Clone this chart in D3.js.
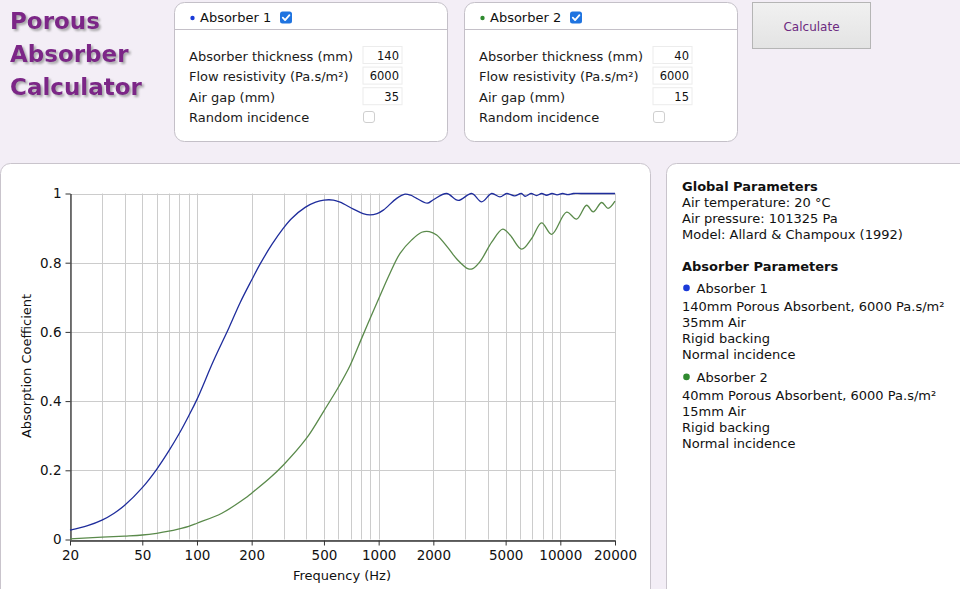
<!DOCTYPE html>
<html><head><meta charset="utf-8">
<script src="https://cdn.jsdelivr.net/npm/d3@7"></script>
<style>
body{margin:0;background:#f3eef6;}
svg{display:block;font-family:"DejaVu Sans",Verdana,sans-serif;}
</style></head><body>
<svg id="c" width="960" height="589"></svg>
<script>
// ---- data ----
const freq1 = [20,25,30,35,40,50,60,70,80,90,100,123,150,173,200,222,258,299,332,394,450,500,563,613,726,820,896,980,1061,1257,1397,1500,1619,1853,2000,2367,2743,3253,3690,4190,4656,5070,5600,6100,6400,6900,7400,7900,8400,9000,9600,10300,11000,11800,13000,20000];
const abs1  = [0.027,0.040,0.056,0.076,0.099,0.150,0.203,0.256,0.307,0.357,0.405,0.515,0.612,0.685,0.750,0.795,0.852,0.900,0.928,0.960,0.975,0.981,0.981,0.975,0.955,0.942,0.938,0.942,0.952,0.986,0.998,0.995,0.986,0.972,0.982,1.000,0.980,1.000,0.976,1.000,0.990,1.000,0.993,1.000,0.992,1.000,0.994,1.000,0.995,1.000,0.996,1.000,0.997,1.000,1.000,1.000];
const freq2 = [20,30,40,50,60,70,80,90,100,137,184,200,250,300,400,500,600,695,807,896,995,1153,1312,1521,1726,1900,2086,2417,2700,3118,3300,3614,4200,4820,5288,6128,6955,7891,8960,10833,12296,13957,15180,16900,18300,20000];
const abs2  = [0.002,0.007,0.010,0.013,0.018,0.024,0.031,0.038,0.047,0.076,0.119,0.134,0.176,0.216,0.292,0.372,0.440,0.502,0.582,0.638,0.693,0.769,0.827,0.866,0.888,0.890,0.880,0.842,0.810,0.782,0.783,0.803,0.860,0.897,0.880,0.839,0.870,0.915,0.882,0.946,0.926,0.966,0.947,0.974,0.957,0.978];
const xTickValues = [20,50,100,200,500,1000,2000,5000,10000,20000];
const xGridValues = [20,30,40,50,60,70,80,90,100,200,300,400,500,600,700,800,900,1000,2000,3000,4000,5000,6000,7000,8000,9000,10000,20000];
const yTickValues = [0,0.2,0.4,0.6,0.8,1];
const seriesNames = ["Absorber 1","Absorber 2"];
const seriesColors = ["#1f2d9c","#5a8a4b"];
const dotColors = ["#1a3ad8","#2f8a2f"];
const thickness = ["140","40"], resistivity = ["6000","6000"], airGap = ["35","15"];
const globalParams = ["Air temperature: 20 °C","Air pressure: 101325 Pa","Model: Allard & Champoux (1992)"];
const absorberDesc = [
  ["140mm Porous Absorbent, 6000 Pa.s/m²","35mm Air","Rigid backing","Normal incidence"],
  ["40mm Porous Absorbent, 6000 Pa.s/m²","15mm Air","Rigid backing","Normal incidence"]
];

const svg = d3.select("#c");
const defs = svg.append("defs");
const f = defs.append("filter").attr("id","sh").attr("x","-10%").attr("y","-10%").attr("width","130%").attr("height","140%");
f.append("feDropShadow").attr("dx",2).attr("dy",2).attr("stdDeviation",1.2).attr("flood-color","#888").attr("flood-opacity",0.7);

// ---- title ----
const title = svg.append("g").attr("filter","url(#sh)");
["Porous","Absorber","Calculator"].forEach((t,i)=>{
  title.append("text").attr("x",10).attr("y",28.5+i*33.3).text(t)
    .attr("font-size",23).attr("font-weight","bold").attr("fill","#7b2587");
});

// ---- absorber panels ----
function checkbox(g,x,y){
  g.append("rect").attr("x",x).attr("y",y).attr("width",12).attr("height",12).attr("rx",2.5).attr("fill","#1f74e0");
  g.append("path").attr("d",`M${x+2.8},${y+6.2} L${x+5.1},${y+8.6} L${x+9.4},${y+3.6}`)
    .attr("fill","none").attr("stroke","#fff").attr("stroke-width",1.8).attr("stroke-linecap","round").attr("stroke-linejoin","round");
}
[174,464].forEach((px,i)=>{
  const g = svg.append("g");
  g.append("rect").attr("x",px+0.5).attr("y",2.5).attr("width",273).attr("height",139).attr("rx",10)
    .attr("fill","#fff").attr("stroke","#c4c0c8");
  g.append("line").attr("x1",px+0.5).attr("x2",px+273.5).attr("y1",29.5).attr("y2",29.5).attr("stroke","#c4c0c8");
  g.append("circle").attr("cx",px+18.5).attr("cy",18).attr("r",2.2).attr("fill",dotColors[i]);
  g.append("text").attr("x",px+26).attr("y",21.5).attr("font-size",13).attr("fill","#111").text(seriesNames[i]);
  checkbox(g,px+106,11.5);
  const labels=["Absorber thickness (mm)","Flow resistivity (Pa.s/m²)","Air gap (mm)","Random incidence"];
  const vals=[thickness[i],resistivity[i],airGap[i]];
  labels.forEach((l,j)=>{
    g.append("text").attr("x",px+15).attr("y",60.5+j*20.6).attr("font-size",13).attr("fill","#1a1a1a").text(l);
  });
  vals.forEach((v,j)=>{
    const yy=46.5+j*20.6;
    g.append("rect").attr("x",px+189).attr("y",yy).attr("width",39).attr("height",17).attr("fill","#fff").attr("stroke","#ececec");
    g.append("text").attr("x",px+225).attr("y",yy+13).attr("text-anchor","end").attr("font-size",11.5).attr("fill","#111").text(v);
  });
  g.append("rect").attr("x",px+189.5).attr("y",111.5).attr("width",11).attr("height",11).attr("rx",2.5)
    .attr("fill","#fff").attr("stroke","#cfcfcf");
});

// ---- calculate button ----
const bg = defs.append("linearGradient").attr("id","btn").attr("x1",0).attr("y1",0).attr("x2",0).attr("y2",1);
bg.append("stop").attr("offset","0%").attr("stop-color","#f1f1f1");
bg.append("stop").attr("offset","100%").attr("stop-color","#e3e3e3");
svg.append("rect").attr("x",752.5).attr("y",2.5).attr("width",118).attr("height",46).attr("fill","url(#btn)").attr("stroke","#b5b5b5");
svg.append("text").attr("x",811.5).attr("y",30.5).attr("text-anchor","middle").attr("font-size",12).attr("fill","#6c2a80").text("Calculate");

// ---- chart panel ----
svg.append("rect").attr("x",0.5).attr("y",163.5).attr("width",650).attr("height",440).attr("rx",10)
  .attr("fill","#fff").attr("stroke","#c9c4cc");
svg.append("rect").attr("x",666.5).attr("y",163.5).attr("width",310).attr("height",440).attr("rx",10)
  .attr("fill","#fff").attr("stroke","#c9c4cc");

const x = d3.scaleLog().domain([20,20000]).range([70,615]);
const y = d3.scaleLinear().domain([0,1]).range([539.5,193.5]);

const grid = svg.append("g").attr("stroke","#cccccc").attr("stroke-width",1);
xGridValues.forEach(v=>{
  const xx = Math.round(x(v))+0.5;
  grid.append("line").attr("x1",xx).attr("x2",xx).attr("y1",y(1)).attr("y2",y(0));
});
yTickValues.forEach(v=>{
  const yy = Math.round(y(v))+0.5;
  grid.append("line").attr("x1",x(20)).attr("x2",x(20000)).attr("y1",yy).attr("y2",yy);
});

const xAxis = svg.append("g").attr("transform",`translate(0,${Math.round(y(0))+0.5})`)
  .call(d3.axisBottom(x).tickValues(xTickValues).tickFormat(d3.format("d")).tickSize(5).tickPadding(5).tickSizeOuter(0));
const yAxis = svg.append("g").attr("transform",`translate(${Math.round(x(20))+0.5},0)`)
  .call(d3.axisLeft(y).tickValues(yTickValues).tickFormat(d=>d3.format("")(+d.toFixed(1))).tickSize(5).tickPadding(4).tickSizeOuter(0));
[xAxis,yAxis].forEach(a=>{
  a.selectAll("path").attr("stroke","#333").attr("stroke-width",1.3);
  a.selectAll("line").attr("stroke","#333");
  a.selectAll("text").attr("font-size",13.5).attr("fill","#111").attr("font-family","DejaVu Sans, Verdana, sans-serif");
});

svg.append("text").attr("x",342).attr("y",580).attr("text-anchor","middle").attr("font-size",13).attr("fill","#111").text("Frequency (Hz)");
svg.append("text").attr("transform",`translate(31,366) rotate(-90)`).attr("text-anchor","middle").attr("font-size",13).attr("fill","#111").text("Absorption Coefficient");

const line = d3.line().x(d=>x(d[0])).y(d=>y(d[1])).curve(d3.curveCatmullRom.alpha(0.5));
[[freq1,abs1],[freq2,abs2]].forEach(([fr,ab],i)=>{
  svg.append("path").datum(fr.map((v,k)=>[v,ab[k]])).attr("d",line)
    .attr("fill","none").attr("stroke",seriesColors[i]).attr("stroke-width",1.3);
});

// ---- parameters panel ----
const p = svg.append("g").attr("font-size",13).attr("fill","#111");
p.append("text").attr("x",682).attr("y",190.7).attr("font-weight","bold").text("Global Parameters");
globalParams.forEach((t,i)=>p.append("text").attr("x",682).attr("y",206.7+i*16).text(t));
p.append("text").attr("x",682).attr("y",270.7).attr("font-weight","bold").text("Absorber Parameters");
[292.7,381.7].forEach((yy,i)=>{
  p.append("circle").attr("cx",686.5).attr("cy",yy-4.8).attr("r",3.3).attr("fill",dotColors[i]);
  p.append("text").attr("x",696.5).attr("y",yy).text(seriesNames[i]);
  absorberDesc[i].forEach((t,j)=>p.append("text").attr("x",682).attr("y",yy+18+j*16).text(t));
});
</script>
</body></html>
